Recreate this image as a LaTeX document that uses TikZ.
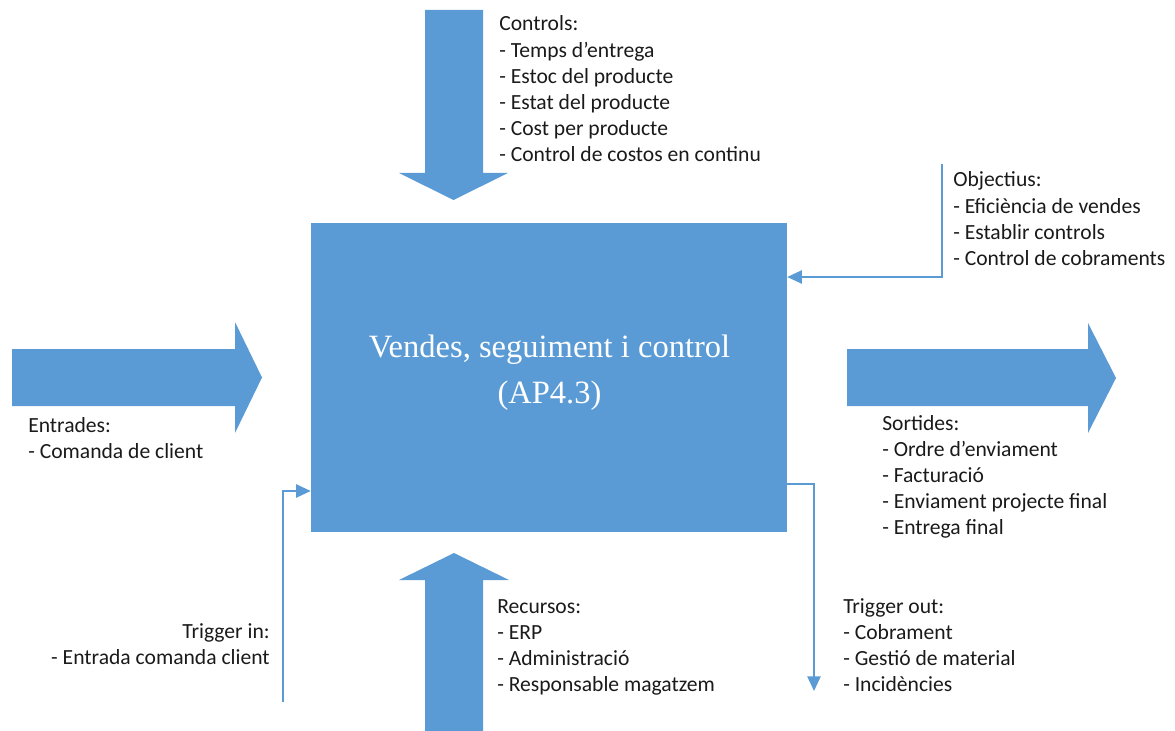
\documentclass[tikz,border=0pt]{standalone}
\usepackage{fontspec}
\setmainfont{Carlito}
\newfontfamily\titlefont{Liberation Serif}
\usetikzlibrary{arrows.meta,calc}
\definecolor{blu}{HTML}{5B9BD5}
\definecolor{txt}{HTML}{1A1A1A}
\newcommand{\lblock}[1]{\begin{tabular}[t]{@{}l@{}}#1\end{tabular}}
\newcommand{\rblock}[1]{\begin{tabular}[t]{@{}r@{}}#1\end{tabular}}
\begin{document}
\begin{tikzpicture}[x=0.75pt,y=-0.75pt,
  fat/.style={fill=blu,draw=none},
  thinarrow/.style={draw=blu,line width=1.1pt,-{Triangle[length=11pt,width=10pt]}},
  lbl/.style={inner sep=0pt,text=txt,font=\fontsize{16.2}{19.6}\selectfont}]
\useasboundingbox (0,0) rectangle (1175,731);

% main box
\node[fill=blu,draw=none,inner sep=0pt,minimum width=357pt,minimum height=231.75pt] (main) at (549,377.5) {};
\node[inner sep=0pt,anchor=north,align=center,text=white,
      font=\titlefont\fontsize{24.4}{34.5}\selectfont] (title) at (549.5,335)
      {Vendes, seguiment i control\\(AP4.3)};

% fat arrows
\path[fat] (425,10) -- (483,10) -- (483,173) -- (508,173) -- (453.5,200) -- (399,173) -- (425,173) -- cycle;
\path[fat] (425,731) -- (483,731) -- (483,580) -- (509,580) -- (454,553) -- (399,580) -- (425,580) -- cycle;
\path[fat] (12,349) -- (235,349) -- (235,322) -- (262,377.5) -- (235,433) -- (235,406) -- (12,406) -- cycle;
\path[fat] (847,349) -- (1088,349) -- (1088,323) -- (1116,378) -- (1088,433) -- (1088,406) -- (847,406) -- cycle;

% thin connectors
\coordinate (objstart) at (942,164);
\coordinate (objy) at (0,277);
\draw[thinarrow] (objstart) |- (main.east |- objy);
\coordinate (toy) at (0,484);
\coordinate (toend) at (814,691);
\draw[thinarrow] (main.east |- toy) -| (toend);
\coordinate (tistart) at (283,702);
\coordinate (tiy) at (0,491);
\draw[thinarrow] (tistart) |- (main.west |- tiy);

% labels
\node[lbl,anchor=base west] (controls) at (499,31) {\lblock{Controls:\\- Temps d’entrega\\- Estoc del producte\\- Estat del producte\\- Cost per producte\\- Control de costos en continu}};
\node[lbl,anchor=base west] (objectius) at (953,187) {\lblock{Objectius:\\- Eficiència de vendes\\- Establir controls\\- Control de cobraments}};
\node[lbl,anchor=base west] (entrades) at (28,432) {\lblock{Entrades:\\- Comanda de client}};
\node[lbl,anchor=base west] (sortides) at (882,430) {\lblock{Sortides:\\- Ordre d’enviament\\- Facturació\\- Enviament projecte final\\- Entrega final}};
\node[lbl,anchor=base west] (recursos) at (497,613) {\lblock{Recursos:\\- ERP\\- Administració\\- Responsable magatzem}};
\node[lbl,anchor=base west] (trigout) at (843,613) {\lblock{Trigger out:\\- Cobrament\\- Gestió de material\\- Incidències}};
\node[lbl,anchor=base east] (trigin) at (270,638) {\rblock{Trigger in:\\- Entrada comanda client}};
\end{tikzpicture}
\end{document}
